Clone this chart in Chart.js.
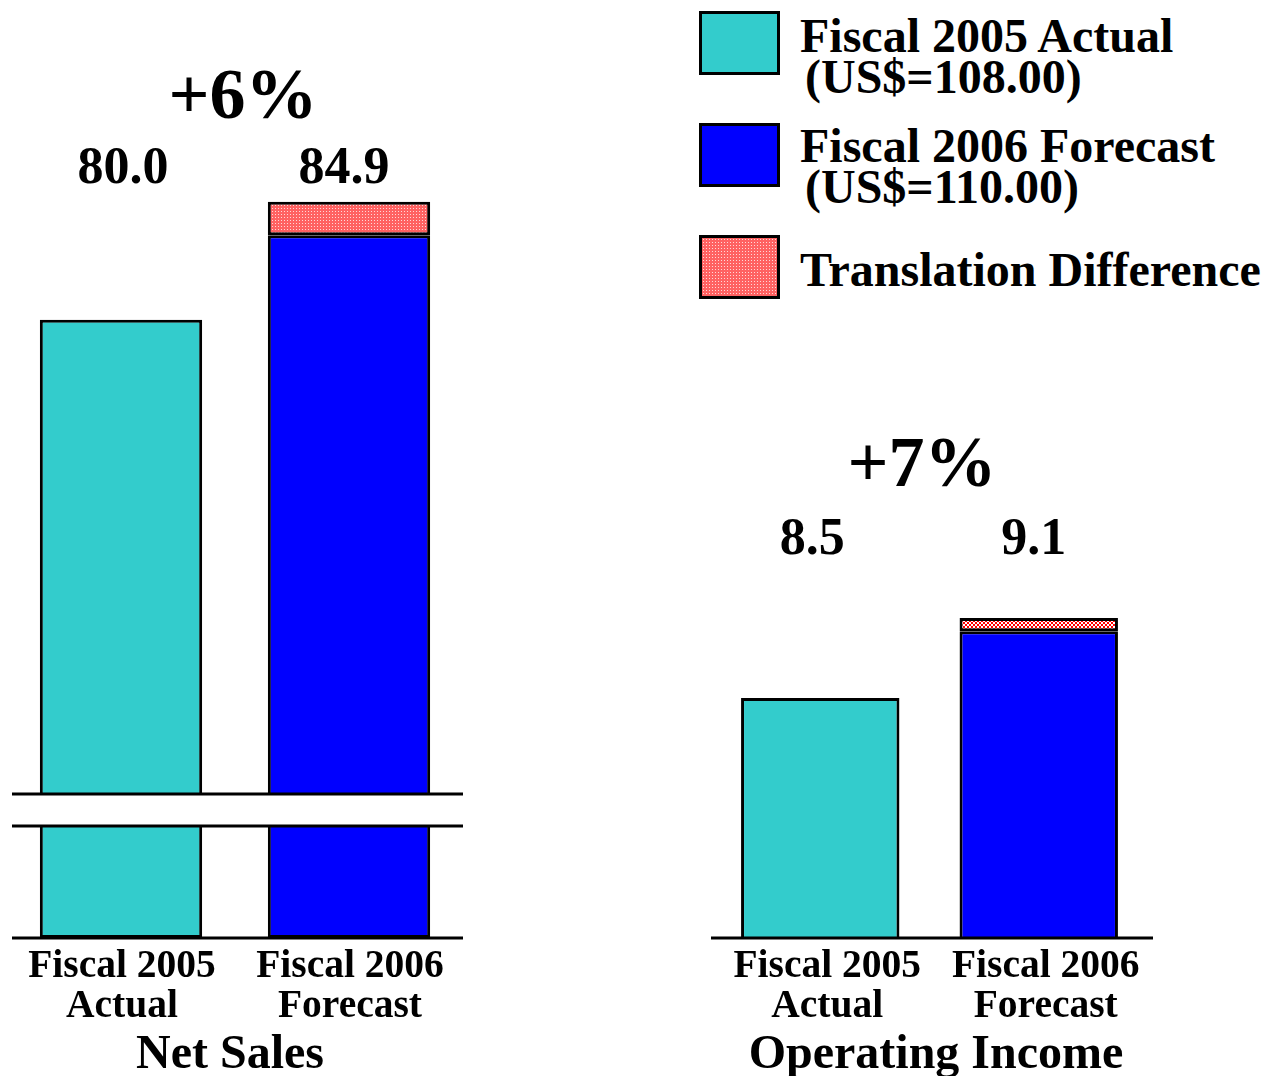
<!DOCTYPE html>
<html>
<head>
<meta charset="utf-8">
<script src="https://cdn.jsdelivr.net/npm/chart.js@4"></script>
<style>
  body { margin: 0; background: #fff; width: 1267px; height: 1076px; overflow: hidden; position: relative;
         font-family: "Liberation Serif", "Times New Roman", serif; font-weight: bold; }
  canvas { position: absolute; }
  .t { position: absolute; white-space: nowrap; line-height: 1; color: #000; }
  .sw { position: absolute; left: 699px; width: 81px; height: 64px; box-sizing: border-box; border: 3px solid #000; }
</style>
</head>
<body>
<canvas id="salesTop" width="456" height="681" style="left:7px;top:120px"></canvas>
<canvas id="salesBottom" width="456" height="126" style="left:7px;top:819px"></canvas>
<canvas id="income" width="442" height="375" style="left:711px;top:570px"></canvas>
<div class="sw" style="top:11px;background:#33cccc"></div>
<div class="sw" style="top:123px;background:#0000ff"></div>
<div class="sw" id="swTrans" style="top:235px"></div>
<script>
const categories = [["Fiscal 2005", "Actual"], ["Fiscal 2006", "Forecast"]];
const seriesNames = ["Fiscal 2005 Actual", "Fiscal 2006 Forecast", "Translation Difference"];
const rates = ["(US$=108.00)", "(US$=110.00)"];

const salesActual = [80.0, null];
const salesForecast = [null, 83.5];
const salesTranslation = [null, 1.4];

const incomeActual = [8.5, null];
const incomeForecast = [null, 9.0];
const incomeTranslation = [null, 0.1];

const CYAN = "#33cccc";
const BLUE = "#0000ff";

// little tiles for the hatched "translation" fill
function makeTile(kind) {
  const c = document.createElement("canvas");
  const x = c.getContext("2d");
  if (kind === "fine") {
    c.width = c.height = 3;
    x.fillStyle = "#ff6262";
    x.fillRect(0, 0, 3, 3);
    x.fillStyle = "#ffd8d8";
    x.fillRect(1, 1, 1, 1);
  } else {
    c.width = c.height = 4;
    x.fillStyle = "#ffffff";
    x.fillRect(0, 0, 4, 4);
    x.fillStyle = "#ff0000";
    x.fillRect(0, 0, 2, 2);
    x.fillRect(2, 2, 2, 2);
  }
  return c;
}
const fineTile = makeTile("fine");
const checkTile = makeTile("check");
document.getElementById("swTrans").style.background = "url(" + fineTile.toDataURL() + ")";

const axisLines = {
  id: "axisLines",
  afterDatasetsDraw(chart) {
    const o = chart.config.options.axisLines;
    const { ctx, chartArea } = chart;
    ctx.save();
    ctx.strokeStyle = "#000";
    ctx.lineWidth = 3;
    o.edges.forEach(e => {
      const y = chartArea[e];
      ctx.beginPath();
      ctx.moveTo(o.x0, y);
      ctx.lineTo(o.x1, y);
      ctx.stroke();
    });
    ctx.restore();
  }
};

function makeChart(id, cfg) {
  const ctx = document.getElementById(id).getContext("2d");
  const ds = (label, data, color) => ({
    label: label,
    data: data,
    backgroundColor: color,
    borderColor: "#000",
    borderWidth: 3,
    borderSkipped: false,
    barPercentage: cfg.barPct,
    categoryPercentage: 1,
    clip: 0,
  });
  return new Chart(ctx, {
    type: "bar",
    data: {
      labels: categories.map(c => c.join(" ")),
      datasets: [
        ds(seriesNames[0], cfg.actual, CYAN),
        ds(seriesNames[1], cfg.forecast, BLUE),
        ds(seriesNames[2], cfg.translation, ctx.createPattern(cfg.tile, "repeat")),
      ],
    },
    options: {
      responsive: false,
      animation: false,
      layout: { padding: cfg.padding },
      scales: {
        x: { stacked: true, display: false },
        y: { stacked: true, display: false, min: cfg.min, max: cfg.max },
      },
      plugins: { legend: { display: false }, tooltip: { enabled: false } },
      axisLines: cfg.lines,
    },
    plugins: [axisLines],
  });
}

const salesTop = makeChart("salesTop", {
  actual: salesActual, forecast: salesForecast, translation: salesTranslation,
  min: 60.3, max: 88, barPct: 0.712, tile: fineTile,
  padding: { top: 7, bottom: 7, left: 0, right: 0 },
  lines: { edges: ["bottom"], x0: 5, x1: 456 },
});
makeChart("salesBottom", {
  actual: salesActual, forecast: salesForecast, translation: salesTranslation,
  min: 0, max: 10, barPct: 0.712, tile: fineTile,
  padding: { top: 7, bottom: 7, left: 0, right: 0 },
  lines: { edges: ["top", "bottom"], x0: 5, x1: 456 },
});
const income = makeChart("income", {
  actual: incomeActual, forecast: incomeForecast, translation: incomeTranslation,
  min: 6.7, max: 9.4, barPct: 0.725, tile: checkTile,
  padding: { top: 8, bottom: 7, left: 0, right: 5 },
  lines: { edges: ["bottom"], x0: 0, x1: 442 },
});

// text placed by baseline (Liberation Serif ascent/descent)
function text(str, x, baseline, size, align) {
  const d = document.createElement("div");
  d.className = "t";
  d.textContent = str;
  d.style.fontSize = size + "px";
  d.style.top = (baseline - 0.8375 * size) + "px";
  d.style.left = x + "px";
  if (align === "center") d.style.transform = "translateX(-50%)";
  document.body.appendChild(d);
}

// legend
text(seriesNames[0], 800, 52, 48);
text(rates[0], 805, 93, 48);
text(seriesNames[1], 800, 162, 48);
text(rates[1], 805, 203, 48);
text(seriesNames[2], 800, 286, 48);

const total = (a, b) => a.map((v, i) => (v || 0) + (b[i] || 0));
const salesTotals = total(salesActual, total(salesForecast, salesTranslation));
const incomeTotals = total(incomeActual, total(incomeForecast, incomeTranslation));
const growth = t => "+" + Math.round((t[1] / t[0] - 1) * 100) + "%";

function barX(chart, left, i) {
  return left + chart.scales.x.getPixelForValue(i);
}

// net sales
const salesValShift = [2, -5];
text(growth(salesTotals), 243, 118, 72, "center");
salesTotals.forEach((v, i) => text(v.toFixed(1), barX(salesTop, 7, i) + salesValShift[i], 184, 52, "center"));
categories.forEach((c, i) => {
  const cx = barX(salesTop, 7, i) + 1;
  text(c[0], cx, 978, 39.5, "center");
  text(c[1], cx, 1018, 39.5, "center");
});
text("Net Sales", 230, 1068, 48, "center");

// operating income
const incomeValShift = [-8, -5];
text(growth(incomeTotals), 922, 486, 72, "center");
incomeTotals.forEach((v, i) => text(v.toFixed(1), barX(income, 711, i) + incomeValShift[i], 555, 52, "center"));
categories.forEach((c, i) => {
  const cx = barX(income, 711, i) + 7;
  text(c[0], cx, 978, 39.5, "center");
  text(c[1], cx, 1018, 39.5, "center");
});
text("Operating Income", 936, 1068, 48, "center");
</script>
</body>
</html>
